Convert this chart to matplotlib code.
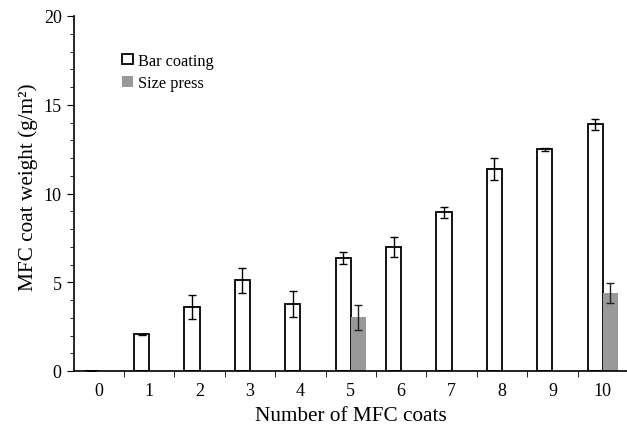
import numpy as np
import matplotlib.pyplot as plt

plt.rcParams['font.family'] = ['Liberation Serif', 'DejaVu Serif']

coats = np.arange(0, 11)
bar_coating = [0.0, 2.07, 3.6, 5.1, 3.78, 6.36, 6.98, 8.94, 11.39, 12.48, 13.9]
bar_err = [0.0, 0.04, 0.68, 0.73, 0.75, 0.33, 0.56, 0.3, 0.62, 0.08, 0.32]
press_coats = [5, 10]
size_press = [3.03, 4.39]
press_err = [0.7, 0.55]

fig = plt.figure(figsize=(6.27, 4.27), dpi=100)
ax = fig.add_axes([73.5 / 627, 55 / 427, (628 - 73.5) / 627, (372 - 17) / 427])

w = 0.3
ax.bar(coats - w / 2, bar_coating, w, color='white', edgecolor='black', linewidth=1.3,
       yerr=bar_err, error_kw=dict(ecolor='black', elinewidth=1, capsize=3, capthick=1),
       label='Bar coating', zorder=2)
ax.bar(np.array(press_coats) + w / 2, size_press, w, color='#999999', edgecolor='none',
       yerr=press_err, error_kw=dict(ecolor='#222222', elinewidth=1, capsize=3, capthick=1),
       label='Size press', zorder=2)

ax.set_xlim(-0.5, 10.5)
ax.set_ylim(0, 20)
ax.set_yticks([0, 5, 10, 15, 20])
ax.set_yticks(np.arange(0, 21, 1), minor=True)
ax.set_xticks(coats)
ax.set_xticks(np.arange(0.5, 10.5, 1), minor=True)
ax.tick_params(axis='x', which='major', length=0, labelsize=13, pad=8)
ax.tick_params(axis='x', which='minor', length=4, direction='out')
ax.tick_params(axis='y', which='major', length=5, direction='out', labelsize=13)
ax.tick_params(axis='y', which='minor', length=3, direction='out')
for s in ['top', 'right']:
    ax.spines[s].set_visible(False)
ax.spines['left'].set_linewidth(1.2)
ax.spines['bottom'].set_linewidth(1.2)

ax.set_xlabel('Number of MFC coats', fontsize=15.3, labelpad=5)
ax.set_ylabel('MFC coat weight (g/m²)', fontsize=15.3, labelpad=4)
ax.yaxis.label.set_y(0.52)

ax.legend(loc='upper left', bbox_to_anchor=(0.076, 0.915), frameon=False, fontsize=11.7,
          handlelength=0.65, handleheight=0.65, handletextpad=0.3, labelspacing=0.42,
          borderaxespad=0)

fig.savefig('out.png', dpi=100)
